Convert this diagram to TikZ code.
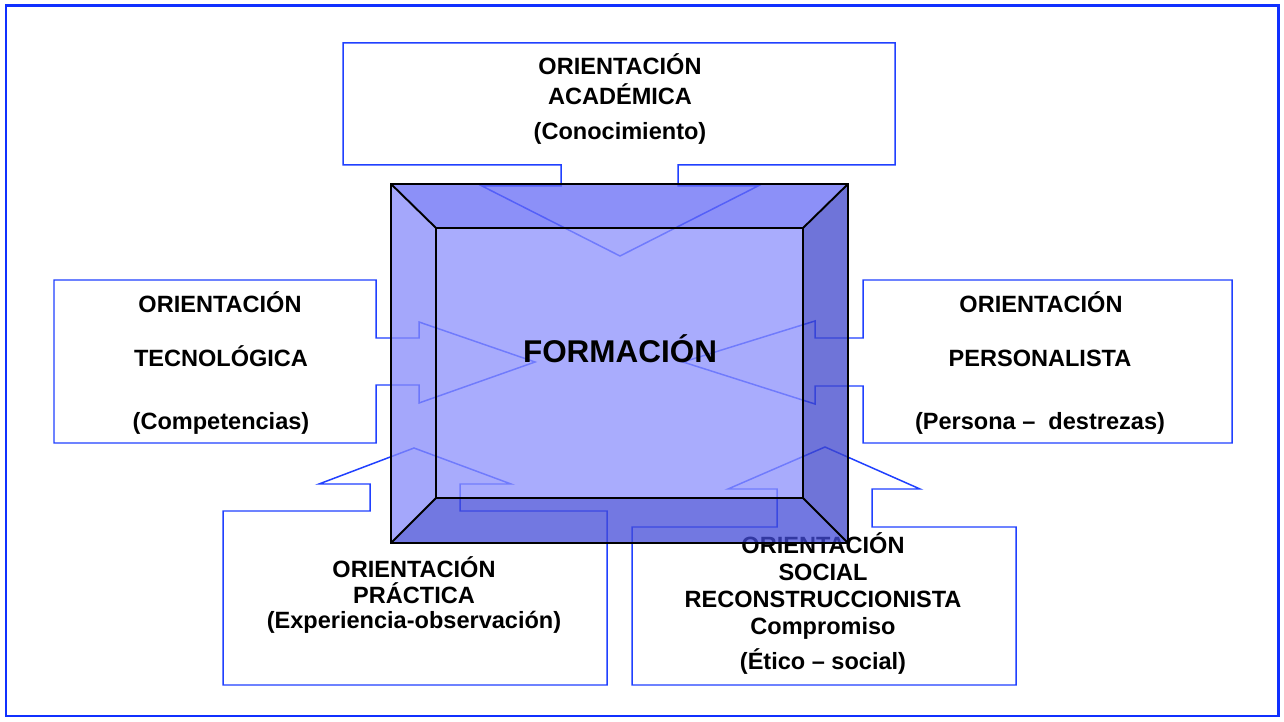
\documentclass[tikz,border=0pt]{standalone}
\usepackage{fontspec}
\setmainfont{Liberation Sans}
\definecolor{frameblue}{HTML}{1030FF}
\definecolor{lineblue}{HTML}{2040FF}
\definecolor{facefront}{HTML}{8C90FC}
\definecolor{facetop}{HTML}{666BF6}
\definecolor{faceleft}{HTML}{868AFA}
\definecolor{faceright}{HTML}{3F46CC}
\definecolor{facebottom}{HTML}{444BD8}

\begin{document}
\begin{tikzpicture}[x=0.02cm, y=-0.02cm,
  callout/.style={draw=lineblue, line width=0.85pt, fill=white, line join=miter},
  face/.style={fill opacity=0.75, draw=none},
  edge/.style={draw=black, line width=1.1pt},
  txt/.style={font=\fontsize{13.4}{15}\selectfont\bfseries, anchor=base, inner sep=0pt}]
  \useasboundingbox (0,0) rectangle (1284,722);
  \draw[frameblue, line width=1.7pt] (6,6) rectangle (1278,716);

  % callouts
  \draw[callout] (343,43) -- (895,43) -- (895,165) -- (678,165) -- (678,186) -- (758,186)
    -- (620,256) -- (482,186) -- (561,186) -- (561,165) -- (343,165) -- cycle;
  \draw[callout] (54,280) -- (376,280) -- (376,338) -- (419,338) -- (419,322) -- (535,362)
    -- (419,403) -- (419,385) -- (376,385) -- (376,443) -- (54,443) -- cycle;
  \draw[callout] (1232,280) -- (863,280) -- (863,338) -- (815,338) -- (815,321) -- (683,362)
    -- (815,404) -- (815,386) -- (863,386) -- (863,443) -- (1232,443) -- cycle;
  \draw[callout] (223,511) -- (370,511) -- (370,484) -- (319,484) -- (414,448) -- (511,484)
    -- (460,484) -- (460,511) -- (607,511) -- (607,685) -- (223,685) -- cycle;
  \draw[callout] (632,527) -- (777,527) -- (777,489) -- (728,489) -- (825,447) -- (920,489)
    -- (872,489) -- (872,527) -- (1016,527) -- (1016,685) -- (632,685) -- cycle;

  \node[txt] (aca1) at (620,75) {ORIENTACIÓN};
  \node[txt] (aca2) at (620,105) {ACADÉMICA};
  \node[txt] (aca3) at (620,140) {(Conocimiento)};

  \node[txt] (tec1) at (220,313) {ORIENTACIÓN};
  \node[txt] (tec2) at (221,367) {TECNOLÓGICA};
  \node[txt] (tec3) at (221,430) {(Competencias)};

  \node[txt] (per1) at (1041,313) {ORIENTACIÓN};
  \node[txt] (per2) at (1040,367) {PERSONALISTA};
  \node[txt] (per3) at (1040,430) {(Persona –\ \ destrezas)};

  \node[txt] (pra1) at (414,577) {ORIENTACIÓN};
  \node[txt] (pra2) at (414,603) {PRÁCTICA};
  \node[txt] (pra3) at (414,628) {(Experiencia-observación)};

  \node[txt] (soc1) at (823,553) {ORIENTACIÓN};
  \node[txt] (soc2) at (823,580) {SOCIAL};
  \node[txt] (soc3) at (823,607) {RECONSTRUCCIONISTA};
  \node[txt] (soc4) at (823,634) {Compromiso};
  \node[txt] (soc5) at (823,669) {(Ético – social)};

  % bevelled box
  \coordinate (o1) at (391,184);
  \coordinate (o2) at (848,184);
  \coordinate (o3) at (848,543);
  \coordinate (o4) at (391,543);
  \coordinate (i1) at (436,228);
  \coordinate (i2) at (803,228);
  \coordinate (i3) at (803,498);
  \coordinate (i4) at (436,498);
  \fill[face, facetop] (o1) -- (o2) -- (i2) -- (i1) -- cycle;
  \fill[face, faceright] (o2) -- (o3) -- (i3) -- (i2) -- cycle;
  \fill[face, facebottom] (o3) -- (o4) -- (i4) -- (i3) -- cycle;
  \fill[face, faceleft] (o4) -- (o1) -- (i1) -- (i4) -- cycle;
  \fill[face, facefront] (i1) rectangle (i3);
  \draw[edge] (o1) rectangle (o3);
  \draw[edge] (i1) rectangle (i3);
  \draw[edge] (o1) -- (i1);
  \draw[edge] (o2) -- (i2);
  \draw[edge] (o3) -- (i3);
  \draw[edge] (o4) -- (i4);

  \node[txt, font=\fontsize{17.9}{20}\selectfont\bfseries] (form) at (620,363) {FORMACIÓN};
\end{tikzpicture}
\end{document}
